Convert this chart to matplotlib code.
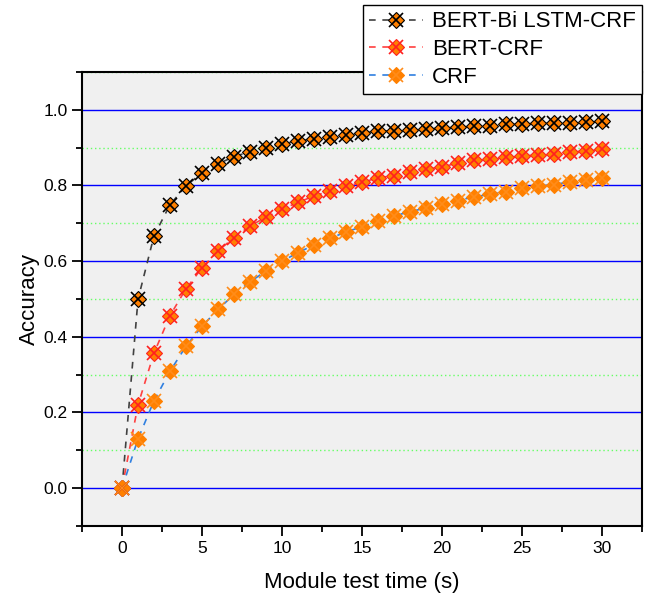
import matplotlib
matplotlib.use("Agg")
import matplotlib.pyplot as plt
from matplotlib.legend_handler import HandlerTuple
from matplotlib.ticker import MultipleLocator

plt.rcParams['font.family'] = ['Liberation Sans', 'DejaVu Sans']

# module test time (s)
time_s = list(range(0, 31))

# accuracy per model
bert_bilstm_crf = [0.0, 0.499, 0.667, 0.749, 0.799, 0.833, 0.857, 0.876, 0.889, 0.900,
                   0.909, 0.918, 0.923, 0.928, 0.934, 0.939, 0.943, 0.945, 0.947, 0.950,
                   0.951, 0.954, 0.956, 0.958, 0.961, 0.962, 0.964, 0.965, 0.966, 0.967,
                   0.969]
bert_crf = [0.0, 0.220, 0.357, 0.456, 0.527, 0.582, 0.627, 0.662, 0.693, 0.716,
            0.737, 0.755, 0.772, 0.785, 0.798, 0.808, 0.820, 0.826, 0.836, 0.843,
            0.849, 0.859, 0.866, 0.870, 0.874, 0.877, 0.881, 0.883, 0.888, 0.891,
            0.895]
crf = [0.0, 0.130, 0.231, 0.309, 0.375, 0.428, 0.472, 0.512, 0.545, 0.574,
       0.600, 0.622, 0.643, 0.660, 0.677, 0.691, 0.706, 0.720, 0.730, 0.741,
       0.750, 0.760, 0.770, 0.776, 0.783, 0.792, 0.798, 0.802, 0.810, 0.815,
       0.820]

labels = ["BERT-Bi LSTM-CRF", "BERT-CRF", "CRF"]
series = [bert_bilstm_crf, bert_crf, crf]
line_colors = ["#404040", "#ff4040", "#2f7fe0"]
cross_colors = ["black", "#ff2020", "#ff8c1a"]
fill = "#ff8000"

fig = plt.figure(figsize=(6.56, 5.99), dpi=100)
ax = fig.add_axes([0.125, 0.122, 0.854, 0.758])
ax.set_facecolor("#f0f0f0")

handles = []
for y, lc, cc, lab in zip(series, line_colors, cross_colors, labels):
    ln, = ax.plot(time_s, y, color=lc, lw=1.2, ls=(0, (4, 4)), zorder=3)
    dm, = ax.plot(time_s, y, ls="none", marker="D", ms=8.5, mfc=fill,
                  mec=cc if cc != "#ff8c1a" else fill, mew=0.8, zorder=4)
    xm, = ax.plot(time_s, y, ls="none", marker="x", ms=10.5, mec=cc, mew=1.2, zorder=5)
    handles.append((ln, dm, xm))

ax.set_xlim(-2.5, 32.5)
ax.set_ylim(-0.1, 1.1)
ax.xaxis.set_major_locator(MultipleLocator(5))
ax.xaxis.set_minor_locator(MultipleLocator(2.5))
ax.yaxis.set_major_locator(MultipleLocator(0.2))
ax.yaxis.set_minor_locator(MultipleLocator(0.1))
ax.yaxis.set_major_formatter(matplotlib.ticker.FormatStrFormatter('%.1f'))

ax.grid(True, which="major", axis="y", color="#0000ff", lw=1.0, zorder=1)
ax.grid(True, which="minor", axis="y", color="#66ff66", lw=1.0, ls=(0, (1, 2)), zorder=1)
ax.set_axisbelow(True)

ax.tick_params(which="major", direction="out", length=7, width=1.3, labelsize=12.5)
ax.tick_params(which="minor", direction="out", length=4, width=1.3)
ax.tick_params(top=False, right=False)
for s in ax.spines.values():
    s.set_linewidth(1.5)

ax.set_xlabel("Module test time (s)", fontsize=16, labelpad=12)
ax.set_ylabel("Accuracy", fontsize=16, labelpad=2)

leg = fig.legend(handles, labels, handler_map={tuple: HandlerTuple(ndivide=1, pad=0)},
                 loc="upper right", bbox_to_anchor=(0.979, 0.992),
                 bbox_transform=fig.transFigure, fontsize=16, frameon=True,
                 fancybox=False, framealpha=1, edgecolor="black", borderaxespad=0,
                 handlelength=2.4, labelspacing=0.3, borderpad=0.3, handletextpad=0.4)
leg.get_frame().set_linewidth(1.0)

fig.savefig("out.png", dpi=100)
